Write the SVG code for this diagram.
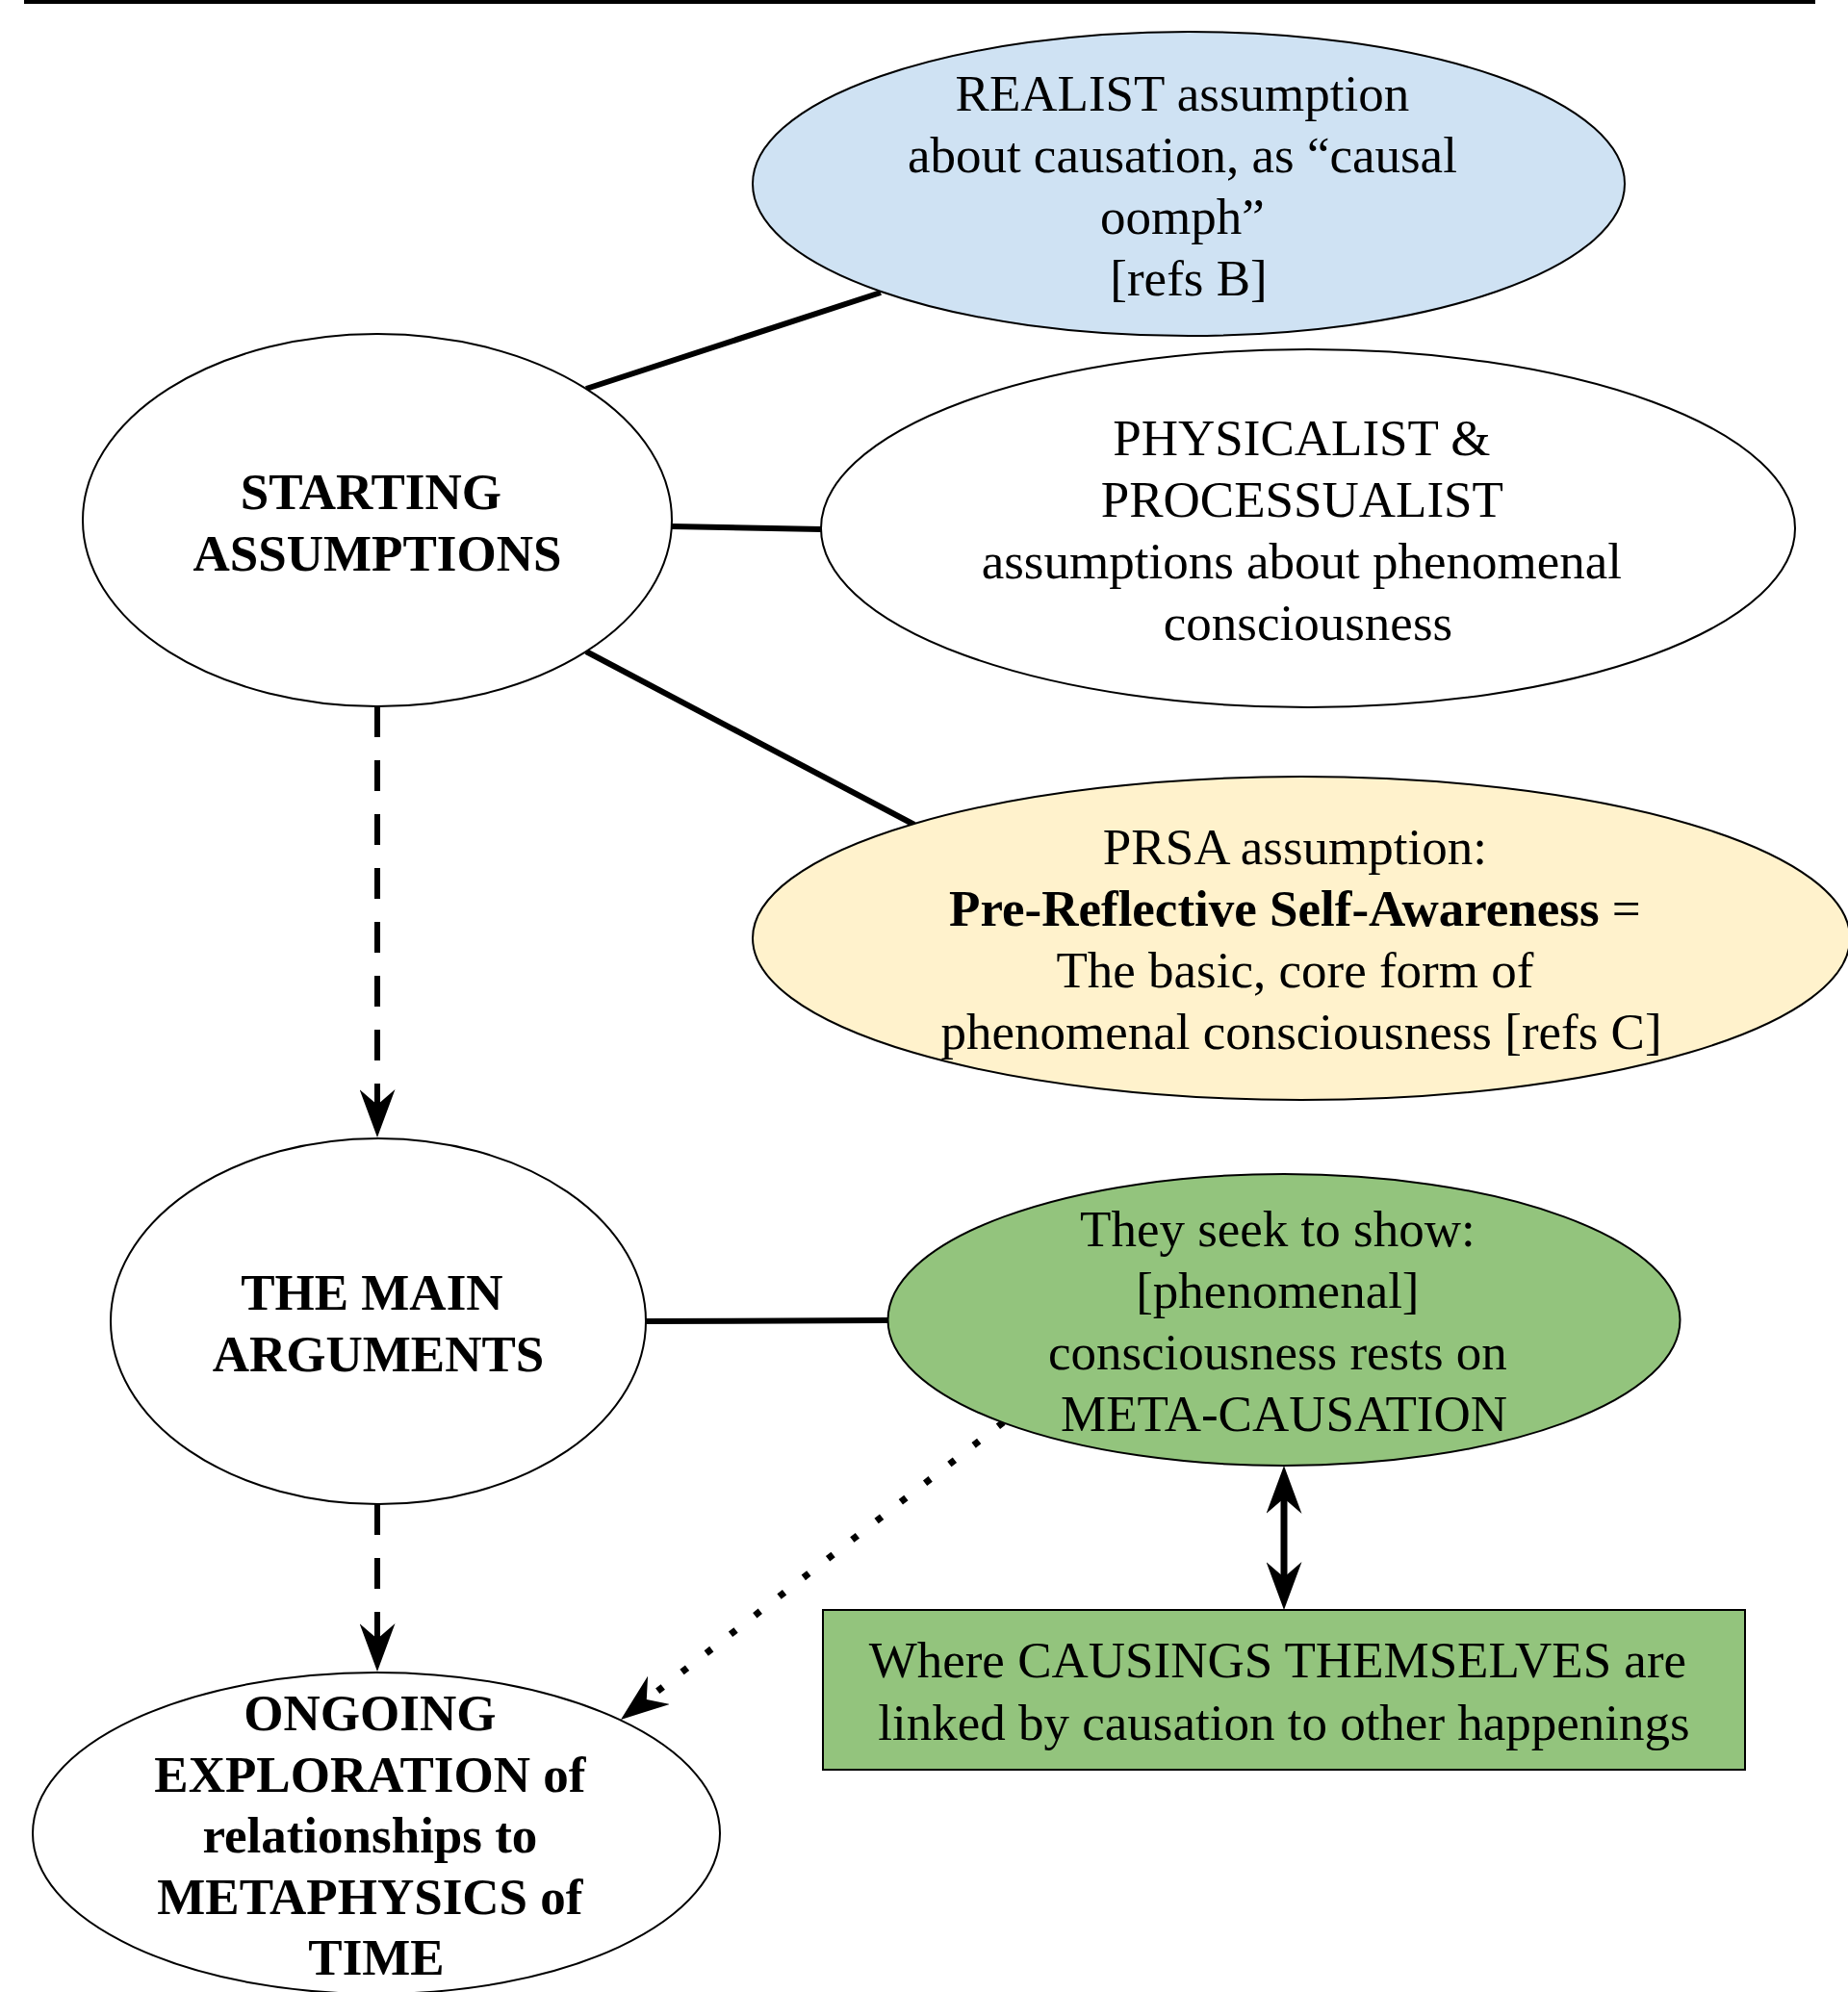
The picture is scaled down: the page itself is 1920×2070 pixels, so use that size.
<svg xmlns="http://www.w3.org/2000/svg" width="1920" height="2070" viewBox="0 0 1920 2070">
  <style>
    .node { stroke: #000; stroke-width: 2; }
    .plain { fill: #ffffff; }
    .blue { fill: #cfe2f3; }
    .yellow { fill: #fff2cc; }
    .green { fill: #93c47d; }
    .label { font-family: "Liberation Serif", "Times New Roman", serif; font-size: 53px; fill: #000; text-anchor: middle; }
    .bold { font-weight: bold; }
    .edge { fill: none; stroke: #000; stroke-width: 6; }
    .dashed { stroke-dasharray: 32 24; }
    .dotted { stroke-width: 7; stroke-dasharray: 7 25; }
  </style>
  <defs>
    <marker id="arrow" markerUnits="userSpaceOnUse" viewBox="0 0 50 37" markerWidth="50" markerHeight="37" refX="16" refY="18.5" orient="auto-start-reverse">
      <path d="M0,0 L50,18.5 L0,37 L16,18.5 Z" fill="#000"/>
    </marker>
  </defs>

  <!-- heading rule -->
  <rect x="25" y="0" width="1861" height="4" fill="#000"/>

  <g id="connectors">
    <line class="edge" x1="609" y1="404" x2="915" y2="304"/>
    <line class="edge" x1="698" y1="547" x2="853" y2="550"/>
    <line class="edge" x1="609" y1="677" x2="950" y2="857"/>
    <line class="edge" x1="670" y1="1373" x2="923" y2="1372"/>
    <path class="edge dashed" d="M392,734 L392,1148" marker-end="url(#arrow)"/>
    <path class="edge dashed" d="M392,1563 L392,1703" marker-end="url(#arrow)"/>
    <path class="edge dotted" d="M1067.7,1458.3 L671.8,1766.1" marker-end="url(#arrow)"/>
    <path class="edge" style="stroke-width:7" d="M1334,1557 L1334,1639" marker-start="url(#arrow)" marker-end="url(#arrow)"/>
  </g>

  <g id="realist">
    <ellipse class="node blue" cx="1235" cy="191" rx="453" ry="158"/>
    <text class="label">
      <tspan x="1235" y="115">REALIST assumption</tspan>
      <tspan x="1235" y="179">about causation, as “causal</tspan>
      <tspan x="1235" y="243">oomph”</tspan>
      <tspan x="1235" y="307">[refs B]</tspan>
    </text>
  </g>

  <g id="starting-assumptions">
    <ellipse class="node plain" cx="392" cy="540.5" rx="306" ry="193.5"/>
    <text class="label bold">
      <tspan x="392" y="529">STARTING</tspan>
      <tspan x="392" y="593">ASSUMPTIONS</tspan>
    </text>
  </g>

  <g id="physicalist">
    <ellipse class="node plain" cx="1359" cy="549" rx="506" ry="186"/>
    <text class="label">
      <tspan x="1359" y="473">PHYSICALIST &amp;</tspan>
      <tspan x="1359" y="537">PROCESSUALIST</tspan>
      <tspan x="1359" y="601">assumptions about phenomenal</tspan>
      <tspan x="1359" y="665">consciousness</tspan>
    </text>
  </g>

  <g id="prsa">
    <ellipse class="node yellow" cx="1352" cy="975" rx="570" ry="168"/>
    <text class="label">
      <tspan x="1352" y="898">PRSA assumption:</tspan>
      <tspan x="1352" y="962"><tspan class="bold">Pre-Reflective Self-Awareness</tspan> =</tspan>
      <tspan x="1352" y="1026">The basic, core form of</tspan>
      <tspan x="1352" y="1090">phenomenal consciousness [refs C]</tspan>
    </text>
  </g>

  <g id="main-arguments">
    <ellipse class="node plain" cx="393" cy="1373" rx="278" ry="190"/>
    <text class="label bold">
      <tspan x="393" y="1361">THE MAIN</tspan>
      <tspan x="393" y="1425">ARGUMENTS</tspan>
    </text>
  </g>

  <g id="meta-causation">
    <ellipse class="node green" cx="1334" cy="1371.5" rx="411.5" ry="151.5"/>
    <text class="label">
      <tspan x="1334" y="1295">They seek to show:</tspan>
      <tspan x="1334" y="1359">[phenomenal]</tspan>
      <tspan x="1334" y="1423">consciousness rests on</tspan>
      <tspan x="1334" y="1487">META-CAUSATION</tspan>
    </text>
  </g>

  <g id="causings">
    <rect class="node green" x="855" y="1673" width="958" height="166"/>
    <text class="label">
      <tspan x="1334" y="1743">Where CAUSINGS THEMSELVES are</tspan>
      <tspan x="1334" y="1808">linked by causation to other happenings</tspan>
    </text>
  </g>

  <g id="ongoing-exploration">
    <ellipse class="node plain" cx="391" cy="1905" rx="357" ry="167"/>
    <text class="label bold">
      <tspan x="391" y="1798">ONGOING</tspan>
      <tspan x="391" y="1862">EXPLORATION of</tspan>
      <tspan x="391" y="1925">relationships to</tspan>
      <tspan x="391" y="1989">METAPHYSICS of</tspan>
      <tspan x="391" y="2052">TIME</tspan>
    </text>
  </g>
</svg>
